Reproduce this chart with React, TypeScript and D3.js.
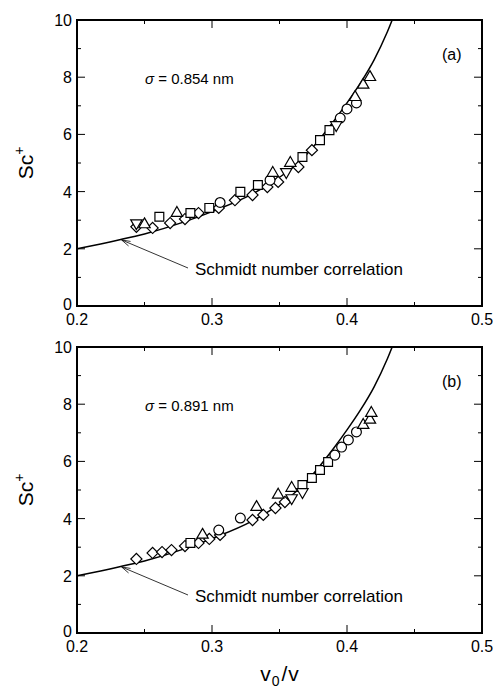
import React from "react";
import * as d3 from "d3";

// ---- Data ----
const X_TICKS = [0.2, 0.3, 0.4, 0.5];
const Y_TICKS = [0, 2, 4, 6, 8, 10];
const X_MINOR = [0.25, 0.35, 0.45];
const Y_MINOR = [1, 3, 5, 7, 9];

// Schmidt number correlation curve
const curveX = [0.2, 0.23, 0.25, 0.28, 0.3, 0.33, 0.35, 0.36, 0.37, 0.38, 0.39, 0.4, 0.41, 0.42, 0.43, 0.44];
const curveY = [2.0, 2.3, 2.52, 2.95, 3.3, 3.92, 4.5, 4.85, 5.3, 5.85, 6.45, 7.1, 7.8, 8.6, 9.6, 10.8];

// Panel (a)
const aDiamond: [number, number][] = [
  [0.244, 2.77], [0.256, 2.73], [0.269, 2.9], [0.28, 3.04], [0.29, 3.25], [0.305, 3.43],
  [0.317, 3.7], [0.33, 3.88], [0.341, 4.16], [0.349, 4.34], [0.364, 4.86], [0.374, 5.45],
];
const aSquare: [number, number][] = [
  [0.261, 3.12], [0.284, 3.25], [0.298, 3.43], [0.321, 3.99], [0.334, 4.23], [0.367, 5.21],
  [0.38, 5.8], [0.387, 6.15],
];
const aCircle: [number, number][] = [
  [0.306, 3.62], [0.343, 4.4], [0.395, 6.57], [0.4, 6.89], [0.407, 7.1],
];
const aTriUp: [number, number][] = [
  [0.25, 2.85], [0.274, 3.25], [0.345, 4.65], [0.358, 5.0], [0.406, 7.3], [0.412, 7.73], [0.417, 8.0],
];
const aTriDown: [number, number][] = [
  [0.244, 2.9], [0.355, 4.69], [0.392, 6.33],
];

// Panel (b)
const bDiamond: [number, number][] = [
  [0.244, 2.59], [0.256, 2.8], [0.263, 2.83], [0.27, 2.9], [0.28, 3.04], [0.29, 3.15],
  [0.298, 3.29], [0.306, 3.43], [0.33, 3.95], [0.338, 4.13], [0.347, 4.37], [0.354, 4.58],
];
const bSquare: [number, number][] = [
  [0.284, 3.15], [0.367, 5.17], [0.374, 5.42], [0.38, 5.7], [0.386, 5.98],
];
const bCircle: [number, number][] = [
  [0.305, 3.6], [0.321, 4.02], [0.391, 6.22], [0.396, 6.5], [0.401, 6.75], [0.407, 7.03],
];
const bTriUp: [number, number][] = [
  [0.293, 3.43], [0.333, 4.4], [0.349, 4.83], [0.359, 5.07], [0.412, 7.27], [0.417, 7.45], [0.418, 7.69],
];
const bTriDown: [number, number][] = [
  [0.359, 4.72], [0.367, 4.93],
];

const W = 493;
const H = 688;
const FONT = "'Liberation Sans', Arial, sans-serif";

const X0 = 77;
const X1 = 482;

type PanelProps = {
  top: number;
  bottom: number;
  label: string;
  sigma: string;
  id: string;
  series: { shape: string; data: [number, number][] }[];
};

function Marker({ shape, x, y }: { shape: string; x: number; y: number }) {
  let path = "";
  let rot = 0;
  if (shape === "circle") path = d3.symbol(d3.symbolCircle, 76)()!;
  else if (shape === "square") path = d3.symbol(d3.symbolSquare, 78)()!;
  else if (shape === "diamond") {
    path = d3.symbol(d3.symbolSquare, 62)()!;
    rot = 45;
  } else if (shape === "triUp") path = d3.symbol(d3.symbolTriangle, 56)()!;
  else if (shape === "triDown") {
    path = d3.symbol(d3.symbolTriangle, 56)()!;
    rot = 180;
  }
  return (
    <path
      d={path}
      transform={`translate(${x},${y}) rotate(${rot})`}
      fill="white"
      stroke="black"
      strokeWidth={1.2}
    />
  );
}

function Panel({ top, bottom, label, sigma, id, series }: PanelProps) {
  const x = d3.scaleLinear().domain([0.2, 0.5]).range([X0, X1]);
  const y = d3.scaleLinear().domain([0, 10]).range([bottom, top]);
  const pts: [number, number][] = curveX.map((v, i) => [v, curveY[i]]);
  const line = d3
    .line<[number, number]>()
    .x((d) => x(d[0]))
    .y((d) => y(d[1]))
    .curve(d3.curveMonotoneX);
  const major = 8;
  const minor = 4;
  const tipX = x(0.233);
  const tipY = y(2.31);
  return (
    <g>
      <defs>
        <clipPath id={id}>
          <rect x={X0} y={top} width={X1 - X0} height={bottom - top} />
        </clipPath>
      </defs>
      {/* ticks */}
      {X_TICKS.map((t) => (
        <g key={"xt" + t}>
          <line x1={x(t)} x2={x(t)} y1={bottom} y2={bottom - major} stroke="black" strokeWidth={1} />
          <line x1={x(t)} x2={x(t)} y1={top} y2={top + major} stroke="black" strokeWidth={1} />
          <text x={x(t)} y={bottom + 19} textAnchor="middle" fontSize={16} fontFamily={FONT}>
            {d3.format(".1f")(t)}
          </text>
        </g>
      ))}
      {X_MINOR.map((t) => (
        <g key={"xm" + t}>
          <line x1={x(t)} x2={x(t)} y1={bottom} y2={bottom - minor} stroke="black" strokeWidth={1} />
          <line x1={x(t)} x2={x(t)} y1={top} y2={top + minor} stroke="black" strokeWidth={1} />
        </g>
      ))}
      {Y_TICKS.map((t) => (
        <g key={"yt" + t}>
          <line x1={X0} x2={X0 + major} y1={y(t)} y2={y(t)} stroke="black" strokeWidth={1} />
          <line x1={X1} x2={X1 - major} y1={y(t)} y2={y(t)} stroke="black" strokeWidth={1} />
          <text x={X0 - 5} y={y(t) + (t === 0 ? 4 : 6)} textAnchor="end" fontSize={16} fontFamily={FONT}>
            {t}
          </text>
        </g>
      ))}
      {Y_MINOR.map((t) => (
        <g key={"ym" + t}>
          <line x1={X0} x2={X0 + minor} y1={y(t)} y2={y(t)} stroke="black" strokeWidth={1} />
          <line x1={X1} x2={X1 - minor} y1={y(t)} y2={y(t)} stroke="black" strokeWidth={1} />
        </g>
      ))}
      {/* curve */}
      <path d={line(pts)!} fill="none" stroke="black" strokeWidth={1.5} clipPath={`url(#${id})`} />
      {/* markers */}
      {series.map((s) =>
        s.data.map((d, i) => <Marker key={s.shape + i} shape={s.shape} x={x(d[0])} y={y(d[1])} />)
      )}
      {/* frame */}
      <rect x={X0} y={top} width={X1 - X0} height={bottom - top} fill="none" stroke="black" strokeWidth={2} />
      {/* texts */}
      <text x={442} y={top + 40} fontSize={16} fontFamily={FONT}>
        {label}
      </text>
      <text x={145} y={top + 64} fontSize={15} fontFamily={FONT}>
        <tspan fontStyle="italic">σ</tspan> = {sigma} nm
      </text>
      {/* arrow annotation */}
      <line x1={tipX} y1={tipY} x2={188} y2={top + 248} stroke="black" strokeWidth={0.8} />
      <path
        d={`M${tipX + 9},${tipY + 1.5} L${tipX},${tipY} L${tipX + 7},${tipY + 6}`}
        fill="none"
        stroke="black"
        strokeWidth={0.8}
      />
      <text x={195} y={top + 255} fontSize={17} fontFamily={FONT}>
        Schmidt number correlation
      </text>
      {/* y label */}
      <text
        transform={`translate(33,${(top + bottom) / 2}) rotate(-90)`}
        textAnchor="middle"
        fontSize={21}
        fontFamily={FONT}
      >
        Sc<tspan dy={-9} fontSize={14}>+</tspan>
      </text>
    </g>
  );
}

export default function App() {
  return (
    <svg
      width={W}
      height={H}
      style={{ position: "absolute", left: 0, top: 0, background: "white" }}
      xmlns="http://www.w3.org/2000/svg"
    >
      <rect width={W} height={H} fill="white" />
      <Panel
        top={20}
        bottom={306}
        label="(a)"
        sigma="0.854"
        id="clipA"
        series={[
          { shape: "diamond", data: aDiamond },
          { shape: "square", data: aSquare },
          { shape: "circle", data: aCircle },
          { shape: "triUp", data: aTriUp },
          { shape: "triDown", data: aTriDown },
        ]}
      />
      <Panel
        top={347}
        bottom={633}
        label="(b)"
        sigma="0.891"
        id="clipB"
        series={[
          { shape: "diamond", data: bDiamond },
          { shape: "square", data: bSquare },
          { shape: "circle", data: bCircle },
          { shape: "triUp", data: bTriUp },
          { shape: "triDown", data: bTriDown },
        ]}
      />
      <text x={(X0 + X1) / 2} y={681} textAnchor="middle" fontSize={21} fontFamily={FONT}>
        v<tspan dx={1} dy={5} fontSize={14}>0</tspan>
        <tspan dx={2} dy={-5}>/</tspan>
        <tspan dx={1}>v</tspan>
      </text>
    </svg>
  );
}
